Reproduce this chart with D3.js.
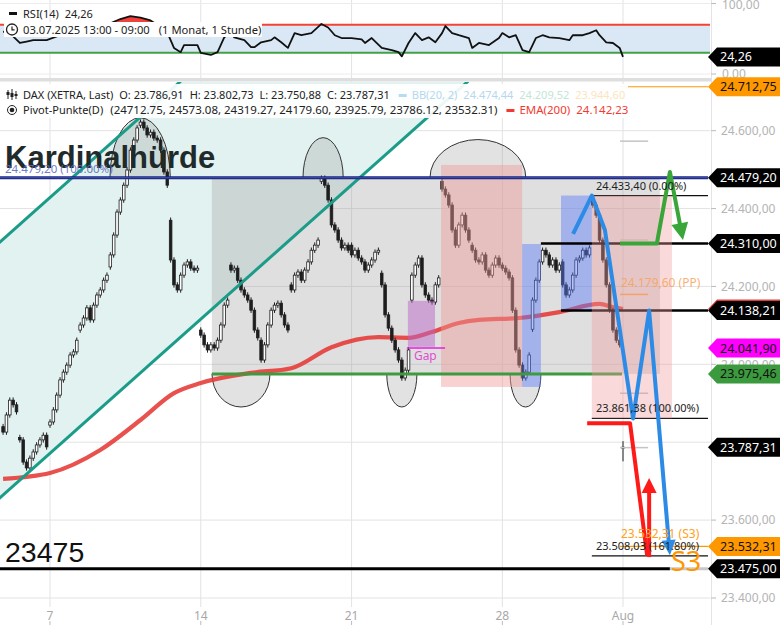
<!DOCTYPE html>
<html><head><meta charset="utf-8">
<script src="https://cdn.jsdelivr.net/npm/d3@7/dist/d3.min.js"></script>
<style>body{margin:0;background:#fff;}svg{display:block;font-family:"Noto Sans",sans-serif;}</style>
</head><body><svg id="c" width="780" height="625"></svg>
<script>
// ---------------- DATA ----------------
const dateTicks = [14, 59, 104, 149, 185];
const dateLabels = ["7", "14", "21", "28", "Aug"];
const priceTicks = [23400, 23600, 23800, 24000, 24200, 24400, 24600];
const rsiTicks = [0, 100];

// hourly closes (Xetra, 1h), 03.07.2025 13:00 ... 01.08.2025 09:00
const closeJul3_4 = [23826,23870,23908,23896,23878, 23806,23749,23734,23759,23775,23793,23806,23818,23788];
const closeWk28 = [
 23852,23883,23921,23960,23980,23998,24024,24032,24062,
 24101,24119,24145,24114,24152,24178,24191,24216,24229,
 24281,24332,24391,24422,24460,24499,24550,24576,24607,
 24622,24607,24589,24596,24581,24576,24550,24494,24460,
 24268,24204,24191,24229,24255,24263,24247,24242,24247];
const closeWk29 = [
 24075,24050,24037,24050,24042,24062,24101,24152,24165,
 24242,24247,24216,24191,24178,24165,24139,24088,24068,
 24011,24050,24101,24139,24152,24157,24127,24101,24088,
 24191,24229,24237,24216,24242,24263,24293,24306,24319,
 24478,24460,24422,24358,24345,24319,24299,24306,24293];
const closeWk30 = [
 24281,24293,24273,24263,24242,24255,24268,24288,24293,
 24204,24127,24093,24062,24037,24011,23965,23985,24037,
 24229,24255,24273,24204,24178,24165,24160,24204,24222,
 24450,24435,24409,24345,24306,24358,24383,24345,24319,
 24293,24268,24263,24281,24242,24229,24255,24273,24255];
const closeWk31 = [
 24247,24237,24222,24139,24037,23998,23965,23980,24024,
 24165,24216,24263,24293,24281,24255,24268,24242,24255,
 24204,24178,24191,24229,24268,24273,24293,24281,24299,
 24409,24383,24319,24268,24204,24139,24088,24062,24050,
 23787.31];
const dayOpens = [23840,23812,23844,24088,24250,24614,24370,24088,24255,24062,24204,24470,24306,24234,24165,24470,24306,24255,24090,24263,24425,23786.91];
const lastOHLC = [23786.91, 23802.73, 23750.88, 23787.31];

const emaIdx = [0,14,29,41,51,59,74,86,98,112,121,128,136,142,154,166,178,182,185];
const emaVal = [23706,23721,23780,23857,23926,23952,23978,23990,24044,24070,24068,24083,24106,24114,24119,24134,24155,24147,24142.23];

const rsiIdx = [0,2,5,7,9,13,17,23,29,32,35,38,41,44,46,49,51,53,54,58,59,62,64,66,68,69,72,74,75,77,80,81,83,85,87,89,92,95,97,99,101,104,107,108,110,113,116,118,119,121,123,125,127,129,131,132,134,136,139,140,142,145,148,149,151,153,155,157,159,161,163,166,169,170,173,175,177,178,180,182,184,185];
const rsiVal = [60,58,44,46,48,48,55,62,68,72,78,82,80,76,70,59,37,31,41,41,30,27,31,52,58,52,48,38,38,45,48,52,45,37,58,55,58,71,66,55,51,51,49,44,51,37,34,31,25,44,58,48,52,45,58,68,58,55,51,37,44,41,51,58,52,55,34,31,51,55,52,51,48,55,55,58,62,55,45,44,37,24.26];

const bbVals = [24474.44, 24209.52, 23944.60];
const pivots = [24712.75, 24573.08, 24319.27, 24179.60, 23925.79, 23786.12, 23532.31];
const pivotNames = ["R3","R2","R1","PP","S1","S2","S3"];
const fibMain = [24479.20, 23975.46];
const fibSecond = [24433.40, 23861.38, 23508.03];
const fibSecondPct = ["0.00%", "100.00%", "161.80%"];
const levels = [24310.00, 24138.21, 23475.00];
const gapLevel = 24041.90;
const tagValues = [24712.75, 24479.20, 24310.00, 24142.23, 24138.21, 24041.90, 23975.46, 23787.31, 23532.31, 23475.00];

// drawing annotations in data units (candle index, price)
const chanUpper = [[-5, 24283], [240, 26159]];
const chanLower = [[-5, 23626], [240, 25502]];
const topEllIdx = [40.9, 95.5, 141.7], topEllRx = [9.0, 6.0, 14.3], topEllRy = [154, 103, 98];
const botEllIdx = [71.0, 119.0, 155.9], botEllRx = [8.65, 4.5, 4.6], botEllRy = [85, 85, 85];
const pinkZone = [130.7, 154.9, 24512, 23942];
const blueZone1 = [154.9, 160.5, 24309, 23942];
const blueZone2 = [166.5, 175.7, 24433.4, 24138.21];
const gapZone = [120.8, 128.9, 24163, 24045];
const bluePath = [[170.1,24335],[175.7,24433.4],[179.6,24345],[188.0,23861],[192.8,24138],[199.0,23510]];
const greenPath = [[184.1,24310],[195.1,24310],[199.0,24494],[202.9,24319]];
const redPath = [[174.3,23849],[187.1,23849],[192.2,23510]];
const redUp = [[192.8,23505],[192.8,23708]];

// ---------------- SETUP ----------------
const fmt = d3.formatLocale({decimal:",",thousands:".",grouping:[3],currency:["",""]}).format(",.2f");
const fmtPt = d3.format(".2f");
const svg = d3.select("#c");
const plotR = 710, mainTop = 82, mainBot = 605, rsiBot = 78;
const x = d3.scaleLinear().domain([14, 185]).range([50, 623]);
const y = d3.scaleLinear().domain([23382, 24725]).range([mainBot, mainTop]);
const yr = d3.scaleLinear().domain([0, 100]).range([74, 3.5]);
const xEnd = x.invert(708);

const defs = svg.append("defs");
defs.append("clipPath").attr("id","cm").append("rect").attr("x",0).attr("y",mainTop).attr("width",plotR).attr("height",mainBot-mainTop);
defs.append("clipPath").attr("id","cr").append("rect").attr("x",0).attr("y",0).attr("width",plotR).attr("height",rsiBot);

// candles
const closes = [].concat(closeJul3_4, closeWk28, closeWk29, closeWk30, closeWk31);
const dayLens = [5, 9]; for (let k = 0; k < 19; k++) dayLens.push(9); dayLens.push(1);
const candles = [];
let idx = 0;
dayLens.forEach((len, d) => {
  for (let k = 0; k < len; k++) {
    const o = k === 0 ? dayOpens[d] : closes[idx-1];
    const c = closes[idx];
    let h = Math.max(o,c) + 7, l = Math.min(o,c) - 7;
    if (idx === closes.length-1) { h = lastOHLC[1]; l = lastOHLC[2]; }
    candles.push({i: idx, o, h, l, c});
    idx++;
  }
});

// ---------------- GRID ----------------
const grid = svg.append("g");
priceTicks.forEach(p => grid.append("line").attr("x1",0).attr("x2",plotR).attr("y1",y(p)).attr("y2",y(p)).attr("stroke","#e2e2e6"));
dateTicks.forEach(t => grid.append("line").attr("x1",x(t)).attr("x2",x(t)).attr("y1",0).attr("y2",607).attr("stroke","#e2e2e6"));
rsiTicks.forEach(v => grid.append("line").attr("x1",0).attr("x2",plotR).attr("y1",yr(v)).attr("y2",yr(v)).attr("stroke","#ececf0"));

// ---------------- RSI PANEL ----------------
const rg = svg.append("g").attr("clip-path","url(#cr)");
rg.append("rect").attr("x",0).attr("width",plotR).attr("y",yr(70)).attr("height",yr(30)-yr(70)).attr("fill","#dae8f6");
const rsiPts = rsiIdx.map((d,k)=>[d, rsiVal[k]]);
rg.append("path").datum(rsiPts).attr("fill","#f0413a")
  .attr("d", d3.area().x(d=>x(d[0])).y0(yr(70)).y1(d=>yr(Math.max(70,d[1]))));
rg.append("line").attr("x1",0).attr("x2",plotR).attr("y1",yr(70)).attr("y2",yr(70)).attr("stroke","#f44336").attr("stroke-width",2);
rg.append("line").attr("x1",0).attr("x2",plotR).attr("y1",yr(30)).attr("y2",yr(30)).attr("stroke","#43a047").attr("stroke-width",2);
rg.append("path").datum(rsiPts).attr("fill","none").attr("stroke","#111").attr("stroke-width",1.8).attr("stroke-linejoin","round")
  .attr("d", d3.line().x(d=>x(d[0])).y(d=>yr(d[1])));
svg.append("rect").attr("x",0).attr("y",rsiBot).attr("width",712).attr("height",3.5).attr("fill","#dedede");

// ---------------- MAIN PANEL ----------------
const mg = svg.append("g").attr("clip-path","url(#cm)");
const chanPoly = [chanUpper[0], chanUpper[1], chanLower[1], chanLower[0]];
mg.append("path").attr("d", d3.line().x(d=>x(d[0])).y(d=>y(d[1]))(chanPoly) + "Z").attr("fill","#e1f2f0");
mg.append("rect").attr("x",x(62.3)).attr("width",x(196.0)-x(62.3)).attr("y",y(fibMain[0])).attr("height",y(fibMain[1])-y(fibMain[0]))
  .attr("fill","#9e9e9e").attr("fill-opacity",0.33);
function halfEll(ci, rxI, cp, ryP, top) {
  const cx = x(ci), cy = y(cp), rx = x(ci+rxI)-cx, ry = Math.abs(y(cp+ryP)-cy);
  return `M${cx-rx},${cy} A${rx},${ry} 0 0 ${top?1:0} ${cx+rx},${cy} Z`;
}
topEllIdx.forEach((c,k)=> mg.append("path").attr("d", halfEll(c, topEllRx[k], fibMain[0], topEllRy[k], true))
  .attr("fill","#9e9e9e").attr("fill-opacity",0.3).attr("stroke","#333").attr("stroke-width",1));
botEllIdx.forEach((c,k)=> mg.append("path").attr("d", halfEll(c, botEllRx[k], fibMain[1], botEllRy[k], false))
  .attr("fill","#9e9e9e").attr("fill-opacity",0.3).attr("stroke","#333").attr("stroke-width",1));
mg.append("path").datum(emaIdx.map((d,k)=>[d,emaVal[k]])).attr("fill","none").attr("stroke","#e53935").attr("stroke-width",4.2).attr("stroke-opacity",0.88)
  .attr("d", d3.line().curve(d3.curveMonotoneX).x(d=>x(d[0])).y(d=>y(d[1])));
const cg = mg.append("g");
candles.forEach(d => {
  const cx = x(d.i), up = d.c >= d.o;
  cg.append("line").attr("x1",cx).attr("x2",cx).attr("y1",y(d.h)).attr("y2",y(d.l)).attr("stroke","#1e1e1e").attr("stroke-width",1);
  const top = y(Math.max(d.o,d.c)), hgt = Math.max(1, Math.abs(y(d.o)-y(d.c)));
  cg.append("rect").attr("x",cx-1.3).attr("width",2.6).attr("y",top).attr("height",hgt)
    .attr("fill", up ? "#fff" : "#1e1e1e").attr("stroke","#1e1e1e").attr("stroke-width",0.8);
});
function zone(z, fill, op) {
  mg.append("rect").attr("x",x(z[0])).attr("width",x(z[1])-x(z[0])).attr("y",y(z[2])).attr("height",y(z[3])-y(z[2]))
    .attr("fill",fill).attr("fill-opacity",op);
}
zone(pinkZone, "#ef9a9a", 0.45);
zone(blueZone1, "#5c7cfa", 0.45);
zone(blueZone2, "#5c7cfa", 0.45);
zone(gapZone, "#ba68c8", 0.5);
[chanUpper, chanLower].forEach(l => mg.append("line").attr("x1",x(l[0][0])).attr("y1",y(l[0][1])).attr("x2",x(l[1][0])).attr("y2",y(l[1][1]))
  .attr("stroke","#1a9c88").attr("stroke-width",3));
function hline(i0, i1, p, color, w) {
  mg.append("line").attr("x1",x(i0)).attr("x2",x(i1)).attr("y1",y(p)).attr("y2",y(p)).attr("stroke",color).attr("stroke-width",w);
}
hline(-5, xEnd, fibMain[0], "#1a237e", 3);
hline(-5, xEnd, fibMain[0], "#3f51b5", 1);
hline(62.3, 184.7, fibMain[1], "#3d9a40", 3);
hline(120.5, 131.9, gapLevel, "#e91ee0", 1.5);
hline(160.5, xEnd, levels[0], "#000", 2.5);
hline(166.5, xEnd, levels[1], "#000", 2.5);
hline(-5, 199, levels[2], "#000", 3);
hline(199, xEnd, levels[2], "#c8c8c8", 3);
pivots.forEach((p,k) => {
  const nm = pivotNames[k];
  if (nm === "R3" || nm === "S3") hline(184.1, xEnd, p, "#ff9800", 1.2);
  else if (nm === "PP") hline(184.1, 192.5, p, "#f7a64a", 1.5);
  else hline(184.1, 192.5, p, "#c4c4c4", 1.5);
});
fibSecond.forEach(p => hline(175.7, xEnd, p, "#111", 1.2));
zone([175.7, 199.6, fibSecond[0], fibSecond[1]], "#ef9a9a", 0.38);

function arrow(pts, color, w, head) {
  const P = pts.map(d=>[x(d[0]), y(d[1])]);
  let tri = null;
  if (head) {
    const [x1,y1] = P[P.length-2], [x2,y2] = P[P.length-1];
    const a = Math.atan2(y2-y1, x2-x1);
    const bx = x2 - head[0]*Math.cos(a), by = y2 - head[0]*Math.sin(a);
    const nx = -Math.sin(a), ny = Math.cos(a);
    tri = [[x2,y2],[bx+nx*head[1]/2, by+ny*head[1]/2],[bx-nx*head[1]/2, by-ny*head[1]/2]];
    P[P.length-1] = [bx + (x2-bx)*0.3, by + (y2-by)*0.3];
  }
  mg.append("path").attr("d", d3.line()(P)).attr("fill","none").attr("stroke",color).attr("stroke-width",w)
    .attr("stroke-linejoin","round").attr("stroke-linecap","butt");
  if (tri) mg.append("path").attr("d", d3.line()(tri)+"Z").attr("fill",color);
}
arrow(bluePath, "#2b8be6", 4, [15, 14]);
arrow(greenPath, "#3aa63a", 4, [17, 17]);
arrow(redPath, "#ff1a1a", 4, null);
arrow(redUp, "#ff1a1a", 4, [15, 15]);

const tg = svg.append("g");
tg.append("text").attr("x",5).attr("y",168).text("Kardinalhürde")
  .attr("font-family","'Liberation Sans',Arial,sans-serif").attr("font-weight","bold").attr("font-size",31).attr("fill","#1f2b2b");
tg.append("text").attr("x",5).attr("y",y(fibMain[0])-5).text(`${fmt(fibMain[0])} (100.00%)`)
  .attr("font-size",11.5).attr("fill","#5c6bc0").attr("fill-opacity",0.9);
tg.append("text").attr("x",5).attr("y",562).text(d3.format("d")(levels[2]))
  .attr("font-family","'Liberation Sans',Arial,sans-serif").attr("font-size",28.5).attr("fill","#111");
tg.append("text").attr("x",x(122.6)).attr("y",y(gapLevel)+12).text("Gap").attr("font-size",12).attr("fill","#e04fd0");
fibSecond.forEach((p,k) => tg.append("text").attr("x",596).attr("y",y(p)-6).text(`${fmt(p)} (${fibSecondPct[k]})`)
  .attr("font-size",11).attr("fill","#222"));
tg.append("text").attr("x",621).attr("y",y(pivots[3])-7).text(`${fmt(pivots[3])} (PP)`).attr("font-size",12).attr("fill","#f5a45c").attr("fill-opacity",0.85);
tg.append("text").attr("x",621).attr("y",y(pivots[6])-8).text(`${fmt(pivots[6])} (S3)`).attr("font-size",12).attr("fill","#ffa020");
tg.append("text").attr("x",671).attr("y",571).text("S3").attr("font-size",27).attr("fill","#ff9800");

// ---------------- LEGENDS ----------------
const lg = svg.append("g").attr("font-size",11);
lg.append("rect").attr("x",0).attr("y",84).attr("width",628).attr("height",34).attr("fill","#fff").attr("fill-opacity",0.92);
function seq(items, x0, yb, fs) {
  let cx = x0;
  items.forEach(it => {
    if (it.dash) { lg.append("rect").attr("x",cx).attr("y",yb-5).attr("width",8).attr("height",3).attr("fill",it.dash); cx += 13; return; }
    const t = lg.append("text").attr("x",cx).attr("y",yb).text(it.t).attr("fill",it.c||"#222").attr("font-size",it.fs||fs);
    cx += t.node().getComputedTextLength() + (it.g ?? 6);
  });
}
[[8,90,99,92,95],[12,89,100,93,97],[16,91,99,94,96]].forEach(a=>{
  lg.append("line").attr("x1",a[0]).attr("x2",a[0]).attr("y1",a[1]).attr("y2",a[2]).attr("stroke","#222");
  lg.append("rect").attr("x",a[0]-1.5).attr("y",a[3]).attr("width",3).attr("height",a[4]-a[3]).attr("fill","#222");
});
seq([{t:"DAX (XETRA, Last)"},{t:`O: ${fmt(lastOHLC[0])}`},{t:`H: ${fmt(lastOHLC[1])}`},{t:`L: ${fmt(lastOHLC[2])}`},{t:`C: ${fmt(lastOHLC[3])}`,g:9},
  {dash:"#b7dcf2"},{t:"BB(20, 2)",c:"#b5d8ef"},{t:fmt(bbVals[0]),c:"#b5d8ef"},{t:fmt(bbVals[1]),c:"#c2e6d6"},{t:fmt(bbVals[2]),c:"#fbe5bd"}], 23, 99, 11);
lg.append("circle").attr("cx",12).attr("cy",110).attr("r",4.5).attr("fill","none").attr("stroke","#222").attr("stroke-width",1);
lg.append("circle").attr("cx",12).attr("cy",110).attr("r",2.3).attr("fill","#222");
seq([{t:"Pivot-Punkte(D)",g:7},{t:"(" + pivots.map(fmtPt).join(", ") + ")",g:9,fs:11.5},{dash:"#f23b30"},{t:"EMA(200)",c:"#f23b30",fs:11.5},{t:fmt(emaVal[emaVal.length-1]),c:"#f23b30",fs:11.5}], 23, 114, 11);

// RSI legend
lg.append("rect").attr("x",9).attr("y",12).attr("width",8).attr("height",3).attr("fill","#111");
seq([{t:"RSI(14)",g:6},{t:fmt(rsiVal[rsiVal.length-1])}], 23, 17.5, 11);
lg.append("rect").attr("x",4).attr("y",22).attr("width",258).attr("height",15).attr("fill","#fff");
lg.append("circle").attr("cx",12).attr("cy",29.5).attr("r",5.5).attr("fill","none").attr("stroke","#222").attr("stroke-width",1.3);
lg.append("path").attr("d","M12,26.5 V29.8 H14.6").attr("fill","none").attr("stroke","#222").attr("stroke-width",1.2);
seq([{t:"03.07.2025 13:00 - 09:00",g:9},{t:"(1 Monat, 1 Stunde)"}], 23, 34, 11.2);

// ---------------- AXES ----------------
const ax = svg.append("g").attr("font-size",12);
ax.append("line").attr("x1",711.5).attr("x2",711.5).attr("y1",0).attr("y2",625).attr("stroke","#e4e4e8");
priceTicks.forEach(p => {
  ax.append("line").attr("x1",711).attr("x2",716).attr("y1",y(p)).attr("y2",y(p)).attr("stroke","#bbb");
  const hidden = tagValues.some(v => Math.abs(y(v) - y(p)) < 7);
  if (!hidden) ax.append("text").attr("x",721).attr("y",y(p)+4.3).text(fmt(p)).attr("fill","#b4b4b4");
});
rsiTicks.forEach(v => {
  ax.append("line").attr("x1",711).attr("x2",716).attr("y1",yr(v)).attr("y2",yr(v)).attr("stroke","#bbb");
  ax.append("text").attr("x",722).attr("y",Math.max(yr(v)+4.3, 9)).text(fmt(v)).attr("fill","#b4b4b4");
});
dateTicks.forEach((t,k) => {
  ax.append("text").attr("x",x(t)).attr("y",620).attr("text-anchor","middle").text(dateLabels[k]).attr("fill","#a8a8a8");
  ax.append("line").attr("x1",x(t)).attr("x2",x(t)).attr("y1",621).attr("y2",625).attr("stroke","#bbb");
});
const tagBg = ["#ff9800","#000","#000","#e53935","#000","#ff00ff","#3a9a3d","#000","#ff9800","#000"];
const tagFg = ["#111","#fff","#fff",null,"#fff","#111","#111","#fff","#111","#fff"];
function tag(cy, label, bg, fg) {
  const h = 9.5;
  ax.append("path").attr("d",`M708,${cy} L717,${cy-h} L780,${cy-h} L780,${cy+h} L717,${cy+h} Z`).attr("fill",bg);
  if (fg) ax.append("text").attr("x",720).attr("y",cy+4.5).text(label).attr("fill",fg).attr("font-size",12.5);
}
tagValues.forEach((v,k) => tag(y(v), fmt(v), tagBg[k], tagFg[k]));
tag(yr(rsiVal[rsiVal.length-1]), fmt(rsiVal[rsiVal.length-1]), "#000", "#fff");
</script></body></html>
